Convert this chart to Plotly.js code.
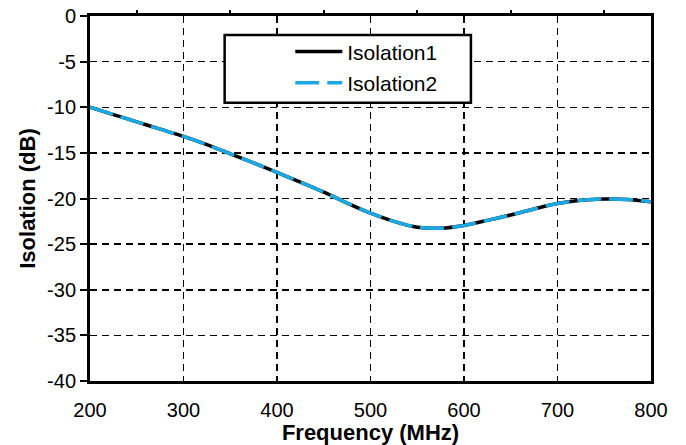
<!DOCTYPE html>
<html>
<head>
<meta charset="utf-8">
<script src="https://cdn.plot.ly/plotly-3.0.1.min.js"></script>
<style>html,body{margin:0;padding:0;background:#fff;}#chart{width:686px;height:445px;}</style>
</head>
<body>
<div id="chart"></div>
<script>
const frequency = [200,225,250,275,300,325,350,375,400,425,450,475,500,525,550,575,600,625,650,675,700,725,750,775,800];
const isolation1 = [-10.0,-10.8,-11.6,-12.4,-13.2,-14.1,-15.1,-16.1,-17.15,-18.2,-19.3,-20.5,-21.6,-22.5,-23.15,-23.25,-22.95,-22.4,-21.8,-21.15,-20.55,-20.2,-20.05,-20.1,-20.35];
const isolation2 = [-10.0,-10.8,-11.6,-12.4,-13.2,-14.1,-15.1,-16.1,-17.15,-18.2,-19.3,-20.5,-21.6,-22.5,-23.15,-23.25,-22.95,-22.4,-21.8,-21.15,-20.55,-20.2,-20.05,-20.1,-20.35];
const seriesNames = ['Isolation1','Isolation2'];
const xTicks = [200,300,400,500,600,700,800];
const yTicks = [0,-5,-10,-15,-20,-25,-30,-35,-40];
const topMinorTicks = [250,350,450,550,650,750];

const FONT = 'Liberation Sans, Arial, sans-serif';

const traces = [
  {x: frequency, y: isolation1, name: seriesNames[0], type: 'scatter', mode: 'lines', legendgroup: 'g1',
   line: {color: '#000000', width: 3.5, shape: 'spline', smoothing: 0.8}},
  {x: frequency, y: isolation2, name: seriesNames[1], type: 'scatter', mode: 'lines', legendgroup: 'g2',
   line: {color: '#1aa9e2', width: 3.5, dash: '24px,8px', shape: 'spline', smoothing: 0.8}},
  {x: [frequency[0], frequency[frequency.length-1]], y: [null, null], xaxis: 'x2', yaxis: 'y',
   showlegend: false, hoverinfo: 'skip', mode: 'lines'}
];

const layout = {
  width: 686, height: 445,
  margin: {l: 90, r: 35, t: 16, b: 64},
  paper_bgcolor: '#ffffff', plot_bgcolor: '#ffffff',
  font: {family: FONT, size: 20, color: '#000'},
  showlegend: true,
  xaxis: {
    range: [200, 800], tickvals: xTicks, ticktext: xTicks.map(String),
    showline: true, linewidth: 3, linecolor: '#000', mirror: true,
    ticks: '', ticklabelstandoff: 9,
    showgrid: true, gridcolor: '#000', gridwidth: 1.5, griddash: '7px,5px',
    zeroline: false,
    tickfont: {family: FONT, size: 20, color: '#000'},
    title: {text: '<b>Frequency (MHz)</b>', font: {family: FONT, size: 22, color: '#000'}, standoff: 2}
  },
  xaxis2: {
    overlaying: 'x', side: 'top', range: [200, 800], tickvals: topMinorTicks,
    ticks: 'outside', ticklen: 5, tickwidth: 2, tickcolor: '#000',
    showticklabels: false, showgrid: false, zeroline: false, showline: false
  },
  yaxis: {
    range: [-40, 0], tickvals: yTicks, ticktext: yTicks.map(String),
    showline: true, linewidth: 3, linecolor: '#000', mirror: true,
    ticks: 'outside', ticklen: 7, tickwidth: 2, tickcolor: '#000',
    showgrid: true, gridcolor: '#000', gridwidth: 1.5, griddash: '7px,5px',
    zeroline: false,
    tickfont: {family: FONT, size: 20, color: '#000'},
    title: {text: '<b>Isolation (dB)</b>', font: {family: FONT, size: 22, color: '#000'}, standoff: 6}
  },
  shapes: [
    {type: 'rect', xref: 'paper', yref: 'paper', x0: 0.24, x1: 0.679, y0: 0.762, y1: 0.948,
     fillcolor: '#ffffff', line: {color: '#000', width: 2.5}, layer: 'above'}
  ],
  legend: {
    x: 0.357, y: 0.958, xanchor: 'left', yanchor: 'top',
    bgcolor: 'rgba(0,0,0,0)', borderwidth: 0,
    font: {family: FONT, size: 21, color: '#000'},
    itemwidth: 47, tracegroupgap: 1
  }
};

Plotly.newPlot('chart', traces, layout, {displayModeBar: false, staticPlot: true});
</script>
</body>
</html>
